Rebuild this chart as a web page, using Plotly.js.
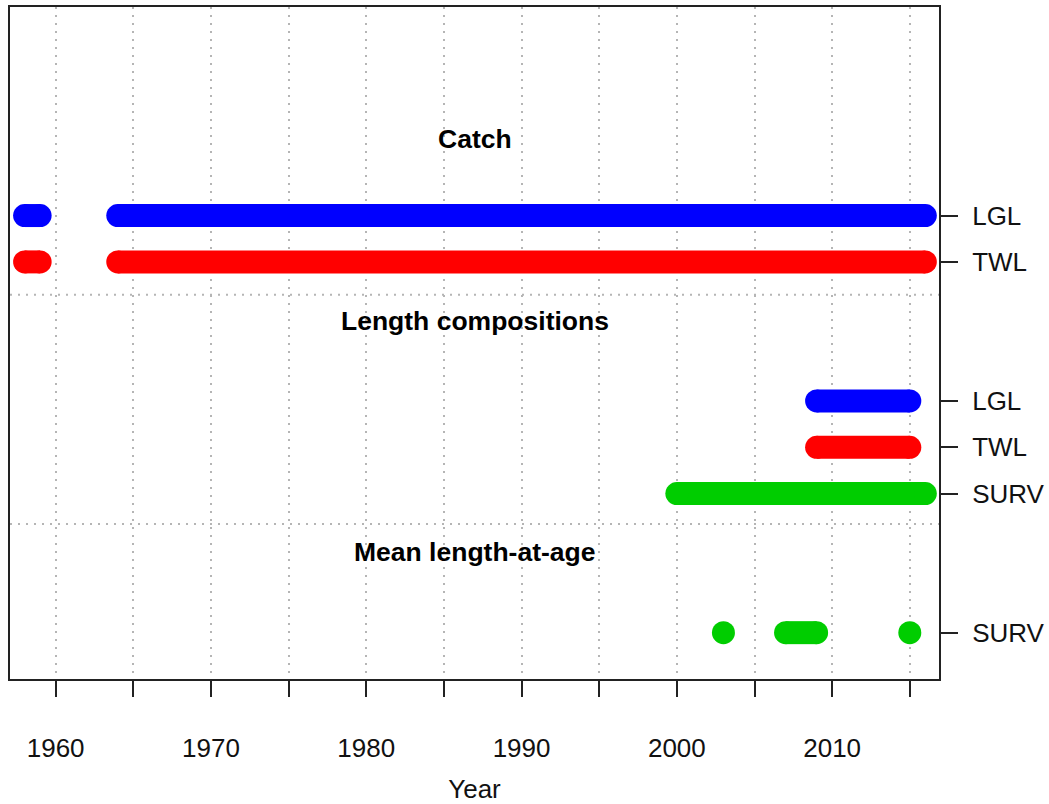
<!DOCTYPE html>
<html>
<head>
<meta charset="utf-8">
<script src="https://cdn.plot.ly/plotly-3.0.1.min.js"></script>
<style>html,body{margin:0;padding:0;background:#fff;}#chart{width:1049px;height:804px;}</style>
</head>
<body>
<div id="chart"></div>
<script>
// ---- Data (years with data) ----
const groupNames = ["Catch", "Length compositions", "Mean length-at-age"];
const fleetLabels = ["LGL", "TWL", "LGL", "TWL", "SURV", "SURV"];

const catchLGL = [1958,1959,1964,1965,1966,1967,1968,1969,1970,1971,1972,1973,1974,1975,1976,1977,1978,1979,1980,1981,1982,1983,1984,1985,1986,1987,1988,1989,1990,1991,1992,1993,1994,1995,1996,1997,1998,1999,2000,2001,2002,2003,2004,2005,2006,2007,2008,2009,2010,2011,2012,2013,2014,2015,2016];
const catchTWL = [1958,1959,1964,1965,1966,1967,1968,1969,1970,1971,1972,1973,1974,1975,1976,1977,1978,1979,1980,1981,1982,1983,1984,1985,1986,1987,1988,1989,1990,1991,1992,1993,1994,1995,1996,1997,1998,1999,2000,2001,2002,2003,2004,2005,2006,2007,2008,2009,2010,2011,2012,2013,2014,2015,2016];
const lenLGL = [2009,2010,2011,2012,2013,2014,2015];
const lenTWL = [2009,2010,2011,2012,2013,2014,2015];
const lenSURV = [2000,2001,2002,2003,2004,2005,2006,2007,2008,2009,2010,2011,2012,2013,2014,2015,2016];
const malSURV = [2003,2007,2008,2009,2015];

const xTickVals = [1960,1965,1970,1975,1980,1985,1990,1995,2000,2005,2010,2015];
const xTickText = ["1960","","1970","","1980","","1990","","2000","","2010",""];

// ---- Layout positions / styles ----
const BLUE = "#0000FF", RED = "#FF0000", GREEN = "#00CD00";
const rows = [
  {years: catchLGL, y: 10, color: BLUE},
  {years: catchTWL, y: 9,  color: RED},
  {years: lenLGL,   y: 6,  color: BLUE},
  {years: lenTWL,   y: 5,  color: RED},
  {years: lenSURV,  y: 4,  color: GREEN},
  {years: malSURV,  y: 1,  color: GREEN}
];
const rowY = [10, 9, 6, 5, 4, 1];
const groupLabelY = [11.65, 7.73, 2.73];
const sepY = [8.29, 3.345];
const FONT = "Liberation Sans, Arial, Helvetica, sans-serif";
const W = 23;

// insert nulls between non-consecutive years; markers only at run ends (round caps)
function build(years) {
  const x = [], s = [];
  for (let i = 0; i < years.length; i++) {
    if (i > 0 && years[i] - years[i-1] > 1) { x.push(null); s.push(0); }
    const isStart = i === 0 || years[i] - years[i-1] > 1;
    const isEnd = i === years.length - 1 || years[i+1] - years[i] > 1;
    x.push(years[i]);
    s.push(isStart || isEnd ? W : 0);
  }
  return {x, s};
}

const traces = rows.map(r => {
  const b = build(r.years);
  return {
    type: "scatter",
    mode: "lines+markers",
    x: b.x,
    y: b.x.map(v => v === null ? null : r.y),
    connectgaps: false,
    line: {color: r.color, width: W},
    marker: {color: r.color, size: b.s, opacity: 1, sizemode: "diameter", line: {width: 0}},
    opacity: 1,
    hoverinfo: "x",
    showlegend: false
  };
});

const annotations = groupNames.map((g, i) => ({
  text: "<b>" + g + "</b>",
  xref: "paper", x: 0.5, yref: "y", y: groupLabelY[i],
  showarrow: false,
  font: {family: FONT, size: 26.5, color: "#000"},
  xanchor: "center", yanchor: "middle"
}));

const shapes = sepY.map(s => ({
  type: "line", xref: "paper", x0: 0, x1: 1, yref: "y", y0: s, y1: s,
  line: {color: "#b5b5b5", width: 2, dash: "2px,6px"},
  layer: "below"
}));

const layout = {
  width: 1049, height: 804,
  margin: {l: 10, r: 110, t: 7, b: 125},
  paper_bgcolor: "#fff", plot_bgcolor: "#fff",
  font: {family: FONT, size: 26, color: "#000"},
  xaxis: {
    range: [1957.06, 2016.88],
    tickmode: "array", tickvals: xTickVals, ticktext: xTickText,
    ticks: "outside", ticklen: 16, tickwidth: 2, tickcolor: "#222",
    showline: true, linecolor: "#222", linewidth: 2, mirror: true,
    showgrid: true, gridcolor: "#b5b5b5", gridwidth: 2, griddash: "2px,6px",
    zeroline: false,
    tickfont: {family: FONT, size: 26, color: "#111"},
    ticklabelstandoff: 29,
    title: {text: "Year", font: {family: FONT, size: 26, color: "#111"}, standoff: 20}
  },
  yaxis: {
    range: [0, 14.5],
    side: "right",
    tickmode: "array", tickvals: rowY, ticktext: fleetLabels,
    ticks: "outside", ticklen: 17, tickwidth: 2, tickcolor: "#222",
    showline: true, linecolor: "#222", linewidth: 2, mirror: true,
    showgrid: false, zeroline: false,
    tickfont: {family: FONT, size: 26, color: "#111"},
    ticklabelstandoff: 9
  },
  annotations: annotations,
  shapes: shapes
};

Plotly.newPlot("chart", traces, layout, {displayModeBar: false, staticPlot: true});
</script>
</body>
</html>
